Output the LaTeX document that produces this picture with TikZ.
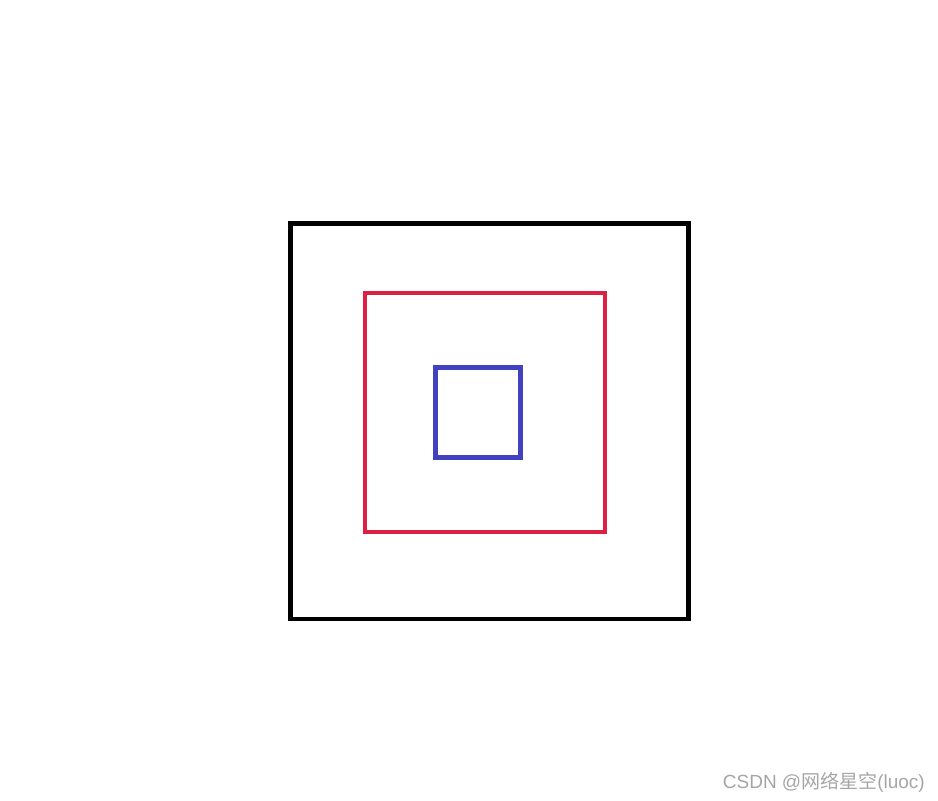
\documentclass[tikz,border=0pt]{standalone}
\usepackage{fontspec}
\setmainfont{Liberation Sans}
\newfontfamily\cjk{Noto Sans CJK SC}
\definecolor{boxred}{RGB}{220,32,68}
\definecolor{boxblue}{RGB}{66,66,192}
\definecolor{markgray}{RGB}{165,165,165}
\begin{document}
\begin{tikzpicture}[x=1pt,y=-1pt]
        \useasboundingbox (0,0) rectangle (938,801);
        % Outer square
        \draw[line width=4.7pt, black] (290.5,223.4) rectangle (688.3,619);

        % Middle square
        \draw[line width=4.7pt, boxred] (365,293) rectangle (605,532);

        % Inner square
        \draw[line width=4.7pt, boxblue] (435.3,367.4) rectangle (520.4,457.3);

        % Watermark
        \node[anchor=base east, inner sep=0pt, text=markgray, font=\fontsize{19}{22}\selectfont] (mark) at (925,788) {CSDN @{\cjk 网络星空}(luoc)};
    \end{tikzpicture}
\end{document}
